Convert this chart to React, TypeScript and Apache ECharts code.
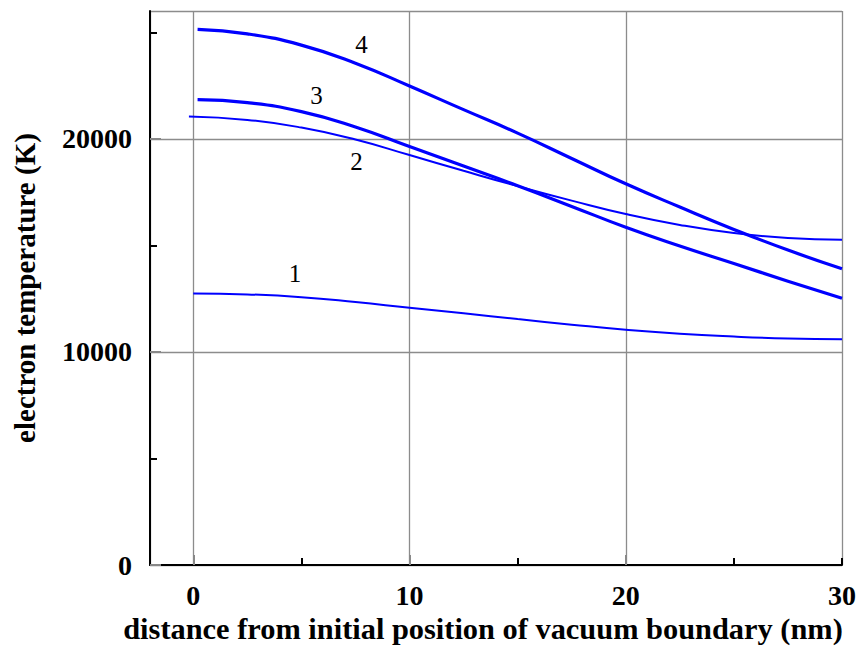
import React, { useEffect, useRef } from "react";
import * as echarts from "echarts";

const curve1X = [0, 2.5, 5, 7.5, 10, 12.5, 15, 17.5, 20, 22.5, 25, 27.5, 30];
const curve1Y = [12740, 12700, 12570, 12340, 12070, 11810, 11540, 11280, 11040, 10850, 10720, 10630, 10590];

const curve2X = [-0.2, 2.5, 5, 7.5, 10, 12.5, 15, 17.5, 20, 22.5, 25, 27.5, 30];
const curve2Y = [21050, 20890, 20530, 19970, 19240, 18500, 17780, 17100, 16470, 15960, 15580, 15350, 15270];

const curve3X = [0.2, 2.5, 5, 7.5, 10, 12.5, 15, 17.5, 20, 22.5, 25, 27.5, 30];
const curve3Y = [21840, 21700, 21280, 20560, 19640, 18720, 17800, 16830, 15850, 14970, 14150, 13320, 12520];

const curve4X = [0.2, 2.5, 5, 7.5, 10, 12.5, 15, 17.5, 20, 22.5, 25, 27.5, 30];
const curve4Y = [25140, 24930, 24400, 23550, 22480, 21370, 20270, 19080, 17890, 16800, 15750, 14780, 13900];

const curveNames = ["1", "2", "3", "4"];
const labelX = [4.7, 7.55, 5.7, 7.78];
const labelY = [13700, 18960, 22020, 24450];

const xMinorTicks = [5, 15, 25, 30];
const xMajorTicks = [0, 10, 20];
const yMinorTicks = [5000, 15000, 25000];
const yMajorTicks = [0, 10000, 20000];

const FONT = "'Liberation Serif', 'Times New Roman', serif";

export default function App() {
  const ref = useRef<HTMLDivElement>(null);
  useEffect(() => {
    if (!ref.current) return;
    const chart = echarts.init(ref.current, null, { renderer: "svg" });
    const xs = [curve1X, curve2X, curve3X, curve4X];
    const ys = [curve1Y, curve2Y, curve3Y, curve4Y];
    const widths = [2, 2, 3.2, 3.2];
    const series = xs.map((xArr, i) => ({
      type: "line",
      name: curveNames[i],
      data: xArr.map((x, j) => [x, ys[i][j]]),
      showSymbol: false,
      smooth: 0.5,
      lineStyle: { color: "#0000ff", width: widths[i] },
      silent: true,
      markPoint: {
        symbol: "circle",
        symbolSize: 0,
        silent: true,
        data: [{ coord: [labelX[i], labelY[i]], value: curveNames[i] }],
        label: {
          show: true,
          position: "inside",
          formatter: curveNames[i],
          color: "#000",
          fontFamily: FONT,
          fontSize: 25,
        },
      },
    }));

    const commonX = { type: "value", min: -2, max: 30, position: "bottom" };
    const commonY = { type: "value", min: 0, max: 26000, position: "left" };

    chart.setOption({
      animation: false,
      backgroundColor: "#fff",
      grid: { left: 150, right: 17, top: 11, bottom: 81, outerBoundsMode: "none" },
      xAxis: [
        {
          ...commonX,
          splitNumber: 3,
          axisLine: { onZero: false, lineStyle: { color: "#000", width: 2 } },
          axisTick: { show: false },
          axisLabel: {
            showMinLabel: false,
            formatter: (v: number) => String(v),
            color: "#000",
            fontFamily: FONT,
            fontWeight: "bold",
            fontSize: 28,
            margin: 16,
          },
          splitLine: { show: true, lineStyle: { color: "#8c8c8c", width: 1.3 } },
          name: "distance from initial position of vacuum boundary (nm)",
          nameLocation: "middle",
          nameGap: 48,
          nameTextStyle: { color: "#000", fontFamily: FONT, fontWeight: "bold", fontSize: 30.4, padding: [0, 26, 0, 0] },
        },
        {
          ...commonX,
          axisLine: { show: false, onZero: false },
          axisTick: { show: true, inside: true, length: 7, customValues: xMinorTicks, lineStyle: { color: "#000", width: 2 } },
          axisLabel: { show: false },
          splitLine: { show: false },
        },
        {
          ...commonX,
          axisLine: { show: false, onZero: false },
          axisTick: { show: true, inside: true, length: 10, customValues: xMajorTicks, lineStyle: { color: "#888", width: 2 } },
          axisLabel: { show: false },
          splitLine: { show: false },
        },
      ],
      yAxis: [
        {
          ...commonY,
          interval: 10000,
          axisLine: { onZero: false, lineStyle: { color: "#000", width: 2 } },
          axisTick: { show: false },
          axisLabel: {
            showMaxLabel: false,
            formatter: (v: number) => String(v),
            color: "#000",
            fontFamily: FONT,
            fontWeight: "bold",
            fontSize: 28,
            margin: 18,
          },
          splitLine: { show: true, lineStyle: { color: "#8c8c8c", width: 1.3 } },
          name: "electron temperature (K)",
          nameLocation: "middle",
          nameGap: 111,
          nameTextStyle: { color: "#000", fontFamily: FONT, fontWeight: "bold", fontSize: 29 },
        },
        {
          ...commonY,
          axisLine: { show: false, onZero: false },
          axisTick: { show: true, inside: true, length: 7, customValues: yMinorTicks, lineStyle: { color: "#000", width: 2 } },
          axisLabel: { show: false },
          splitLine: { show: false },
        },
        {
          ...commonY,
          axisLine: { show: false, onZero: false },
          axisTick: { show: true, inside: true, length: 11, customValues: yMajorTicks, lineStyle: { color: "#888", width: 2 } },
          axisLabel: { show: false },
          splitLine: { show: false },
        },
      ],
      series,
    });
    return () => chart.dispose();
  }, []);
  return (
    <div
      ref={ref}
      style={{ position: "fixed", left: 0, top: 0, width: 859, height: 646, background: "#fff" }}
    />
  );
}
